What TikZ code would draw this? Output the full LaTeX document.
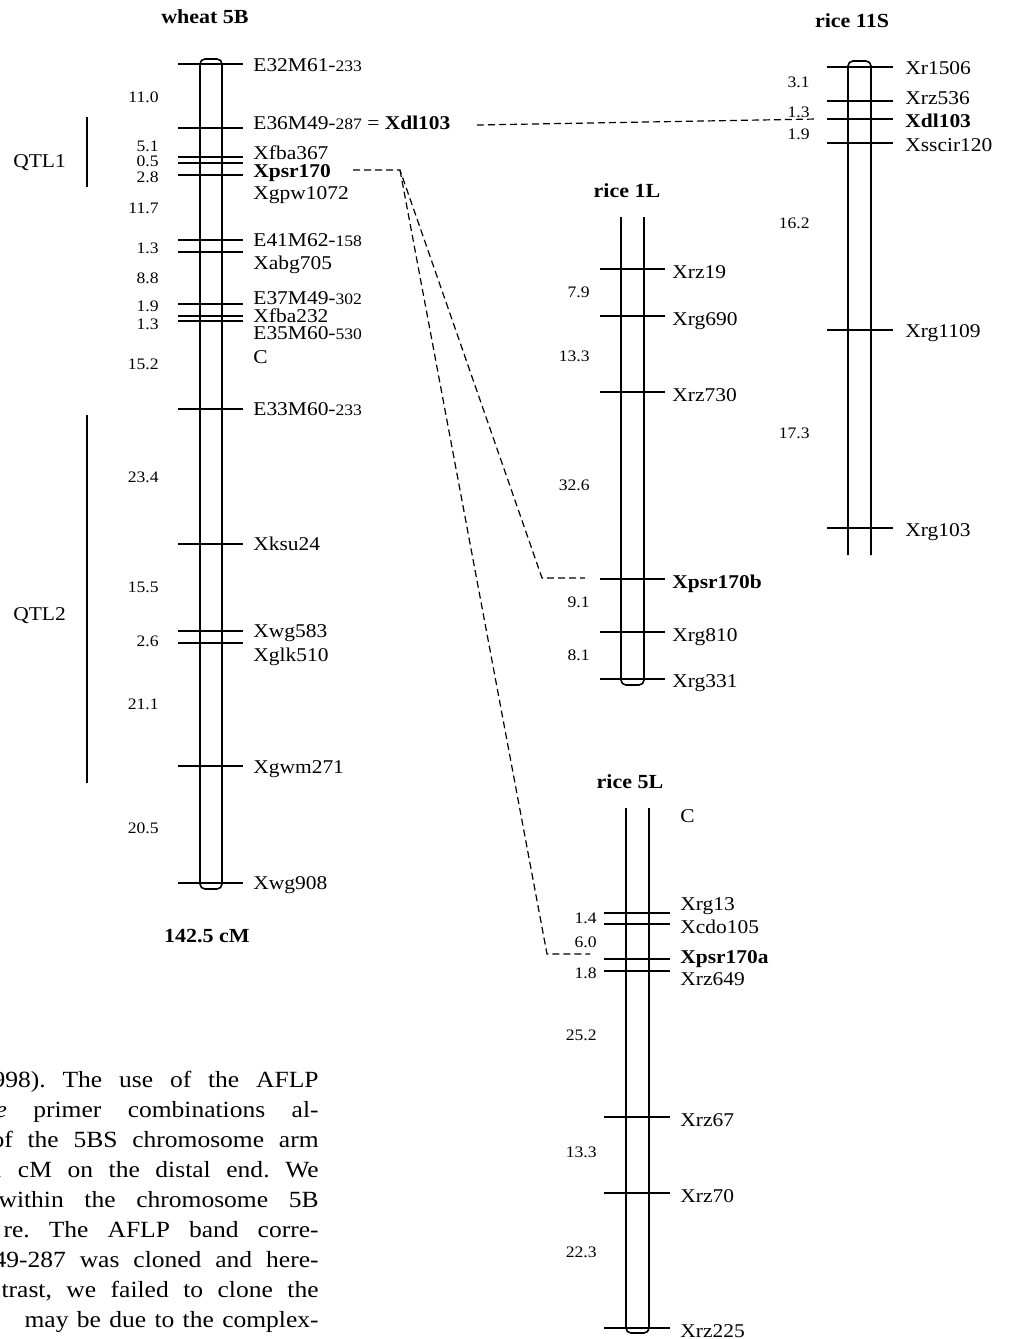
\documentclass[tikz,border=0pt]{standalone}
\usepackage{fontspec}
\setmainfont{Liberation Serif}[FakeStretch=1.1]
\newlength{\pxu}
\setlength{\pxu}{0.5pt}
\newcommand{\sfx}[1]{{\fontsize{8}{9}\selectfont #1}}
\newcommand{\jst}[2]{\hbox to #1\pxu{\spaceskip=0.25em plus 1fil\relax #2}}
\frenchspacing

\begin{document}
\begin{tikzpicture}[
    x=0.5pt, y=-0.5pt,
    chr/.style={line width=0.8pt, rounded corners=2.5pt},
    tk/.style={line width=0.8pt},
    qtl/.style={line width=0.8pt},
    mk/.style={anchor=base west, inner sep=0pt, font=\fontsize{9.75}{11}\selectfont},
    mkb/.style={mk, font=\fontsize{9.75}{11}\selectfont\bfseries},
    dst/.style={anchor=base east, inner sep=0pt, font=\fontsize{8}{9}\selectfont},
    ttl/.style={anchor=base, inner sep=0pt, font=\fontsize{10}{12}\selectfont\bfseries},
    lnk/.style={line width=0.6pt, dash pattern=on 3.5pt off 2pt},
    prose/.style={anchor=base east, inner sep=0pt, font=\fontsize{11.6}{15}\selectfont},
]
\clip (0,0) rectangle (1010,1339);

% wheat 5B
\node[ttl] (wheat) at (205,23) {wheat 5B};
\draw[chr] (200,59) rectangle (222,889);
\draw[tk] (178,64) -- (243,64);
\draw[tk] (178,128) -- (243,128);
\draw[tk] (178,157) -- (243,157);
\draw[tk] (178,163) -- (243,163);
\draw[tk] (178,175) -- (243,175);
\draw[tk] (178,240) -- (243,240);
\draw[tk] (178,252) -- (243,252);
\draw[tk] (178,304) -- (243,304);
\draw[tk] (178,316) -- (243,316);
\draw[tk] (178,321) -- (243,321);
\draw[tk] (178,409) -- (243,409);
\draw[tk] (178,544) -- (243,544);
\draw[tk] (178,631) -- (243,631);
\draw[tk] (178,643) -- (243,643);
\draw[tk] (178,766) -- (243,766);
\draw[tk] (178,883) -- (243,883);
\node[mk] (w1) at (253,71) {E32M61-\sfx{233}};
\node[mk] (w2) at (253,129) {E36M49-\sfx{287} = \textbf{Xdl103}};
\node[mk] (w3) at (253,159) {Xfba367};
\node[mkb] (w4) at (253,177) {Xpsr170};
\node[mk] (w5) at (253,199) {Xgpw1072};
\node[mk] (w6) at (253,246) {E41M62-\sfx{158}};
\node[mk] (w7) at (253,269) {Xabg705};
\node[mk] (w8) at (253,304) {E37M49-\sfx{302}};
\node[mk] (w9) at (253,322) {Xfba232};
\node[mk] (w10) at (253,339) {E35M60-\sfx{530}};
\node[mk] (wc) at (253,363) {C};
\node[mk] (w11) at (253,415) {E33M60-\sfx{233}};
\node[mk] (w12) at (253,550) {Xksu24};
\node[mk] (w13) at (253,637) {Xwg583};
\node[mk] (w14) at (253,661) {Xglk510};
\node[mk] (w15) at (253,773) {Xgwm271};
\node[mk] (w16) at (253,889) {Xwg908};
\node[dst] (wd1) at (159,102) {11.0};
\node[dst] (wd2) at (159,151) {5.1};
\node[dst] (wd3) at (159,166) {0.5};
\node[dst] (wd4) at (159,182) {2.8};
\node[dst] (wd5) at (159,213) {11.7};
\node[dst] (wd6) at (159,253) {1.3};
\node[dst] (wd7) at (159,283) {8.8};
\node[dst] (wd8) at (159,311) {1.9};
\node[dst] (wd9) at (159,329) {1.3};
\node[dst] (wd10) at (159,369) {15.2};
\node[dst] (wd11) at (159,482) {23.4};
\node[dst] (wd12) at (159,592) {15.5};
\node[dst] (wd13) at (159,646) {2.6};
\node[dst] (wd14) at (159,709) {21.1};
\node[dst] (wd15) at (159,833) {20.5};
\node[ttl] (wlen) at (207,942) {142.5 cM};
\node[mk] (q1) at (13,167) {QTL1};
\node[mk] (q2) at (13,620) {QTL2};
\draw[qtl] (87,117) -- (87,187);
\draw[qtl] (87,415) -- (87,783);

% rice 11S
\node[ttl] (r11) at (852,27) {rice 11S};
\draw[chr] (848,555) -- (848,61) -- (871,61) -- (871,555);
\draw[tk] (827,67) -- (893,67);
\draw[tk] (827,101) -- (893,101);
\draw[tk] (827,119) -- (893,119);
\draw[tk] (827,143) -- (893,143);
\draw[tk] (827,330) -- (893,330);
\draw[tk] (827,528) -- (893,528);
\node[mk] (a1) at (905,74) {Xr1506};
\node[mk] (a2) at (905,104) {Xrz536};
\node[mkb] (a3) at (905,127) {Xdl103};
\node[mk] (a4) at (905,151) {Xsscir120};
\node[mk] (a5) at (905,337) {Xrg1109};
\node[mk] (a6) at (905,536) {Xrg103};
\node[dst] (ad1) at (810,87) {3.1};
\node[dst] (ad2) at (810,117) {1.3};
\node[dst] (ad3) at (810,139) {1.9};
\node[dst] (ad4) at (810,228) {16.2};
\node[dst] (ad5) at (810,438) {17.3};

% rice 1L
\node[ttl] (r1) at (627,197) {rice 1L};
\draw[chr] (621,217) -- (621,685) -- (644,685) -- (644,217);
\draw[tk] (600,269) -- (665,269);
\draw[tk] (600,316) -- (665,316);
\draw[tk] (600,392) -- (665,392);
\draw[tk] (600,579) -- (665,579);
\draw[tk] (600,632) -- (665,632);
\draw[tk] (600,679) -- (665,679);
\node[mk] (b1) at (672,278) {Xrz19};
\node[mk] (b2) at (672,325) {Xrg690};
\node[mk] (b3) at (672,401) {Xrz730};
\node[mkb] (b4) at (672,588) {Xpsr170b};
\node[mk] (b5) at (672,641) {Xrg810};
\node[mk] (b6) at (672,687) {Xrg331};
\node[dst] (bd1) at (590,297) {7.9};
\node[dst] (bd2) at (590,361) {13.3};
\node[dst] (bd3) at (590,490) {32.6};
\node[dst] (bd4) at (590,607) {9.1};
\node[dst] (bd5) at (590,660) {8.1};

% rice 5L
\node[ttl] (r5) at (630,788) {rice 5L};
\draw[chr] (626,808) -- (626,1333) -- (649,1333) -- (649,808);
\draw[tk] (604,913) -- (670,913);
\draw[tk] (604,924) -- (670,924);
\draw[tk] (604,959) -- (670,959);
\draw[tk] (604,971) -- (670,971);
\draw[tk] (604,1117) -- (670,1117);
\draw[tk] (604,1193) -- (670,1193);
\draw[tk] (604,1328) -- (670,1328);
\node[mk] (c0) at (680,822) {C};
\node[mk] (c1) at (680,910) {Xrg13};
\node[mk] (c2) at (680,933) {Xcdo105};
\node[mkb] (c3) at (680,963) {Xpsr170a};
\node[mk] (c4) at (680,985) {Xrz649};
\node[mk] (c5) at (680,1126) {Xrz67};
\node[mk] (c6) at (680,1202) {Xrz70};
\node[mk] (c7) at (680,1337) {Xrz225};
\node[dst] (cd1) at (597,923) {1.4};
\node[dst] (cd2) at (597,947) {6.0};
\node[dst] (cd3) at (597,978) {1.8};
\node[dst] (cd4) at (597,1040) {25.2};
\node[dst] (cd5) at (597,1157) {13.3};
\node[dst] (cd6) at (597,1257) {22.3};

% dashed links
\coordinate (xdlL) at (477,125);
\coordinate (xdlR) at (817,119);
\coordinate (psrL) at (353,170);
\coordinate (psrK) at (400,170);
\coordinate (psrB) at (542,578);
\coordinate (psrBe) at (585,578);
\coordinate (psrA) at (547,954);
\coordinate (psrAe) at (590,954);
\draw[lnk] (xdlL) -- (xdlR);
\draw[lnk] (psrL) -- (psrK) -- (psrB) -- (psrBe);
\draw[lnk] (psrK) -- (psrA) -- (psrAe);

% text column
\node[prose] (p1) at (319,1087) {\jst{326}{998). The use of the AFLP}};
\node[prose] (p2) at (319,1117) {\jst{323}{\textit{e} primer combinations al-}};
\node[prose] (p3) at (319,1147) {\jst{327}{of the 5BS chromosome arm}};
\node[prose] (p4) at (319,1177) {\jst{329}{1 cM on the distal end. We}};
\node[prose] (p5) at (319,1207) {\jst{320}{within the chromosome 5B}};
\node[prose] (p6) at (319,1237) {\jst{315}{re. The AFLP band corre-}};
\node[prose] (p7) at (319,1267) {\jst{325}{49-287 was cloned and here-}};
\node[prose] (p8) at (319,1297) {\jst{317}{trast, we failed to clone the}};
\node[prose] (p9) at (319,1327) {\jst{294}{may be due to the complex-}};
\end{tikzpicture}
\end{document}
